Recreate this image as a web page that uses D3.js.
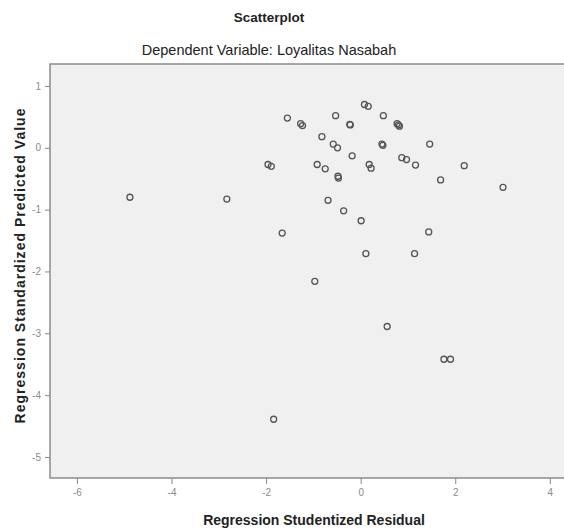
<!DOCTYPE html>
<html>
<head>
<meta charset="utf-8">
<script src="https://d3js.org/d3.v7.min.js"></script>
<style>
body { margin: 0; background: #fff; }
.axis text { fill: #8a8a8a; font-family: "Liberation Sans", Arial, sans-serif; font-size: 10px; }
.axis line { stroke: #888; }
.axis .domain { stroke: none; }
.label { font-family: "Liberation Sans", Arial, sans-serif; fill: #222; }
</style>
</head>
<body>
<svg id="scatter" width="564" height="529"></svg>
<script>

// studentized residual (x) and standardized predicted value (y)
const residual = [-4.88, -2.83, -1.96, -1.89, -1.66, -1.84, -1.55, -1.27, -1.23, -0.97,
  -0.92, -0.82, -0.75, -0.69, -0.58, -0.49, -0.53, -0.48, -0.47, -0.36,
  -0.23, -0.22, -0.18, 0.01, 0.08, 0.16, 0.11, 0.18, 0.22, 0.48,
  0.45, 0.47, 0.77, 0.80, 0.82, 0.87, 0.97, 1.16, 1.14, 1.44,
  1.46, 1.69, 1.76, 1.90, 2.19, 0.56, 3.01];
const predicted = [-0.80, -0.83, -0.27, -0.30, -1.38, -4.39, 0.48, 0.39, 0.36, -2.16,
  -0.27, 0.18, -0.34, -0.85, 0.06, 0.00, 0.52, -0.46, -0.49, -1.02,
  0.38, 0.37, -0.13, -1.18, 0.70, 0.67, -1.71, -0.27, -0.33, 0.52,
  0.06, 0.04, 0.39, 0.37, 0.35, -0.16, -0.19, -0.28, -1.71, -1.36,
  0.06, -0.52, -3.42, -3.42, -0.29, -2.89, -0.64];

const xTicks = [-6, -4, -2, 0, 2, 4];
const yTicks = [1, 0, -1, -2, -3, -4, -5];

const svg = d3.select("svg#scatter");
const plot = {left: 50, right: 564, top: 64, bottom: 478};

const xScale = d3.scaleLinear().domain([-6.57, 4.3]).range([plot.left, plot.right]);
const yScale = d3.scaleLinear().domain([1.355, -5.34]).range([plot.top, plot.bottom]);

// plot background + frame
svg.append("rect")
   .attr("x", plot.left).attr("y", plot.top)
   .attr("width", plot.right - plot.left + 2).attr("height", plot.bottom - plot.top)
   .attr("fill", "#f0f0f0").attr("stroke", "#8c8c8c").attr("stroke-width", 1.5);

// axes (plain hyphen for negatives, like the original)
svg.append("g").attr("class", "x axis")
   .attr("transform", `translate(0,${plot.bottom})`)
   .call(d3.axisBottom(xScale).tickValues(xTicks).tickSize(6).tickPadding(5).tickFormat(d => String(d)));
svg.append("g").attr("class", "y axis")
   .attr("transform", `translate(${plot.left},0)`)
   .call(d3.axisLeft(yScale).tickValues(yTicks).tickSize(5).tickPadding(4).tickFormat(d => String(d)));

// points
const data = residual.map((r, i) => ({x: r, y: predicted[i]}));
svg.append("g").selectAll("circle")
   .data(data).enter().append("circle")
   .attr("cx", d => xScale(d.x))
   .attr("cy", d => yScale(d.y))
   .attr("r", 3)
   .attr("fill", "none")
   .attr("stroke", "#555")
   .attr("stroke-width", 1.3);

// titles
svg.append("text").attr("class", "label")
   .attr("x", 269).attr("y", 22).attr("text-anchor", "middle")
   .attr("font-size", "13.5px").attr("font-weight", "bold")
   .text("Scatterplot");
svg.append("text").attr("class", "label")
   .attr("x", 269).attr("y", 55).attr("text-anchor", "middle")
   .attr("font-size", "14.5px")
   .text("Dependent Variable: Loyalitas Nasabah");
svg.append("text").attr("class", "label")
   .attr("x", 314).attr("y", 525).attr("text-anchor", "middle")
   .attr("font-size", "14px").attr("font-weight", "bold")
   .text("Regression Studentized Residual");
svg.append("text").attr("class", "label")
   .attr("transform", "translate(25,266) rotate(-90)")
   .attr("text-anchor", "middle")
   .attr("font-size", "14px").attr("font-weight", "bold")
   .attr("textLength", 315).attr("lengthAdjust", "spacing")
   .text("Regression Standardized Predicted Value");

</script>
</body>
</html>
